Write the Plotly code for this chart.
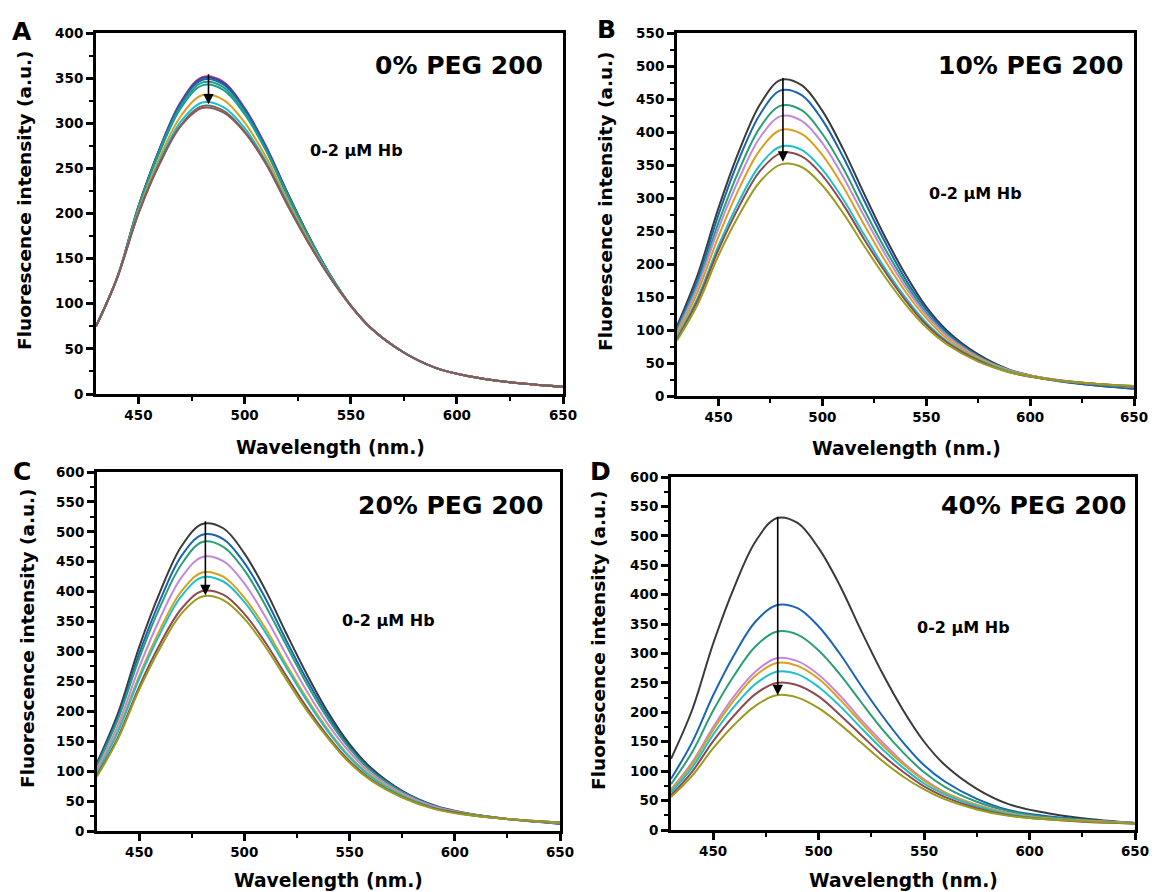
import plotly.graph_objects as go

# wavelength grid (nm)
wavelength = [430, 440, 450, 460, 470, 480, 490, 500, 510, 520, 530, 540, 550, 560, 575, 590, 605, 625, 650]

# ---- A : 0% PEG 200 ----
a_pink = [75, 129, 208, 272, 324, 351, 346, 317, 275, 224, 176, 133, 98, 72, 46, 29, 20, 13, 8]
a_navy = [75, 129, 208, 272, 323, 350, 345, 316, 274, 224, 176, 133, 98, 72, 46, 29, 20, 13, 8]
a_blue = [75, 129, 207, 271, 322, 348, 343, 315, 273, 223, 175, 133, 98, 72, 46, 29, 20, 13, 8]
a_green = [75, 129, 207, 270, 319, 345, 340, 312, 271, 222, 175, 133, 98, 72, 46, 29, 20, 13, 8]
a_teal = [75, 129, 206, 268, 317, 342, 337, 310, 270, 220, 174, 133, 98, 72, 46, 29, 20, 13, 8]
a_gold = [75, 129, 203, 262, 308, 331, 326, 301, 263, 216, 171, 131, 98, 72, 46, 29, 20, 13, 8]
a_cyan = [75, 129, 201, 258, 302, 323, 318, 295, 258, 213, 169, 131, 98, 72, 46, 29, 20, 13, 8]
a_gray = [75, 129, 200, 256, 298, 319, 314, 291, 256, 211, 168, 130, 98, 72, 46, 29, 20, 13, 8]
a_brown = [75, 129, 200, 255, 297, 317, 312, 290, 255, 210, 168, 130, 98, 72, 46, 29, 20, 13, 8]

# ---- B : 10% PEG 200 ----
b_gray = [106, 184, 285, 372, 442, 479, 471, 432, 374, 307, 242, 184, 135, 99, 63, 40, 28, 18, 11]
b_blue = [103, 177, 275, 360, 427, 463, 456, 418, 362, 297, 234, 177, 131, 96, 61, 38, 27, 18, 11]
b_green = [100, 171, 263, 343, 407, 440, 433, 397, 345, 283, 224, 171, 126, 93, 60, 39, 28, 20, 13]
b_violet = [97, 166, 254, 330, 392, 424, 417, 383, 332, 273, 216, 165, 123, 91, 59, 39, 28, 20, 14]
b_gold = [93, 158, 242, 315, 373, 403, 397, 365, 317, 260, 206, 158, 118, 87, 57, 38, 28, 20, 14]
b_cyan = [89, 149, 228, 296, 350, 378, 373, 343, 298, 245, 194, 149, 111, 83, 55, 37, 27, 20, 15]
b_brown = [86, 145, 222, 288, 341, 368, 363, 334, 290, 238, 189, 145, 108, 81, 54, 36, 27, 20, 14]
b_olive = [84, 139, 213, 275, 325, 351, 347, 319, 277, 228, 181, 139, 104, 78, 52, 36, 27, 20, 15]

# ---- C : 20% PEG 200 ----
c_gray = [114, 197, 307, 400, 475, 513, 506, 464, 403, 330, 260, 197, 145, 106, 67, 43, 30, 20, 12]
c_blue = [111, 191, 296, 386, 459, 495, 488, 448, 389, 318, 251, 191, 141, 103, 66, 42, 29, 20, 12]
c_green = [109, 187, 288, 375, 445, 483, 475, 436, 377, 310, 244, 186, 138, 101, 65, 42, 30, 20, 13]
c_violet = [104, 177, 273, 356, 423, 458, 451, 414, 358, 294, 232, 177, 132, 97, 63, 41, 29, 20, 13]
c_gold = [99, 169, 259, 337, 400, 432, 425, 390, 339, 278, 220, 168, 125, 93, 60, 39, 29, 20, 14]
c_cyan = [97, 166, 254, 330, 392, 424, 417, 383, 332, 273, 216, 165, 123, 91, 59, 39, 28, 20, 14]
c_brown = [93, 157, 241, 313, 371, 401, 395, 363, 315, 259, 205, 157, 117, 87, 57, 38, 28, 20, 14]
c_olive = [91, 154, 236, 306, 363, 392, 386, 355, 308, 253, 200, 154, 114, 85, 56, 37, 27, 20, 14]

# ---- D : 40% PEG 200 ----
d_gray = [121, 204, 317, 413, 490, 530, 522, 479, 416, 340, 268, 204, 150, 110, 70, 44, 31, 20, 12]
d_blue = [87, 149, 229, 298, 354, 382, 377, 346, 300, 246, 195, 149, 110, 82, 53, 34, 25, 18, 12]
d_green = [78, 132, 203, 263, 312, 337, 332, 305, 265, 218, 172, 132, 98, 73, 48, 32, 23, 17, 12]
d_violet = [69, 115, 175, 228, 269, 292, 287, 264, 229, 188, 150, 115, 86, 64, 43, 29, 21, 16, 12]
d_gold = [67, 112, 170, 221, 262, 284, 279, 257, 222, 183, 145, 112, 84, 63, 42, 28, 21, 16, 11]
d_cyan = [64, 106, 162, 210, 248, 269, 265, 243, 211, 174, 138, 106, 79, 60, 40, 27, 20, 15, 11]
d_brown = [59, 99, 151, 195, 231, 250, 246, 227, 196, 162, 128, 99, 74, 56, 37, 25, 19, 14, 11]
d_olive = [56, 92, 139, 179, 211, 229, 225, 207, 180, 149, 118, 91, 69, 52, 35, 24, 19, 15, 11]

a_colors = ['#d0407a', '#3b3f99', '#1a64b8', '#2a9f74', '#1a9c9c', '#d8a020', '#1cc0cc', '#6b6b6b', '#8c5a5a']
series_colors = ['#3a3a3a', '#1a64b8', '#2a9f74', '#c488d8', '#d8a020', '#1cc0cc', '#8c4a52', '#9b9b1f']

panels = [
	dict(curves=[a_pink, a_navy, a_blue, a_green, a_teal, a_gold, a_cyan, a_gray, a_brown], colors=a_colors,
		 ymax=400, xd=(96, 563), yd=(33, 394), letter='A', label='0% PEG 200', arrow=(483, 356, 321)),
	dict(curves=[b_gray, b_blue, b_green, b_violet, b_gold, b_cyan, b_brown, b_olive], colors=series_colors,
		 ymax=550, xd=(677, 1134), yd=(33, 396), letter='B', label='10% PEG 200', arrow=(481, 484, 355)),
	dict(curves=[c_gray, c_blue, c_green, c_violet, c_gold, c_cyan, c_brown, c_olive], colors=series_colors,
		 ymax=600, xd=(97, 560), yd=(472, 831), letter='C', label='20% PEG 200', arrow=(481.5, 520, 394)),
	dict(curves=[d_gray, d_blue, d_green, d_violet, d_gold, d_cyan, d_brown, d_olive], colors=series_colors,
		 ymax=600, xd=(671, 1135), yd=(477, 830), letter='D', label='40% PEG 200', arrow=(480.6, 535, 229)),
]

# the page body has an 8 px margin; the figure keeps the window size and its
# coordinates are shifted by that margin (the overflow on the right/bottom is empty)
W, H, OFF = 1157, 892, 8
FONT = 'DejaVu Sans'

# text positions (window pixels)
letter_pos = [(22, 31), (606, 29), (22, 471), (600, 472)]
label_pos = [(459, 65), (1030, 65), (450, 505), (1033, 505)]
hb_pos = [(356, 151), (975, 193), (388, 620), (963, 627)]
xtitle_pos = [(330, 447), (906, 449), (328, 880), (903, 880)]
ytitle_pos = [(25, 200), (605, 201), (27, 638), (598, 640)]


def px(x):
	return (x - OFF) / W


def py(y):
	return 1 - (y - OFF) / H


def text_note(text, pos, size, angle=0):
	return dict(text=text, x=px(pos[0]), y=py(pos[1]), xref='paper', yref='paper',
				xanchor='center', yanchor='middle', textangle=angle, showarrow=False,
				font=dict(family=FONT, size=size, color='black', weight='bold'))


fig = go.Figure()
layout = dict(
	width=W, height=H,
	margin=dict(l=0, r=0, t=0, b=0, pad=0),
	paper_bgcolor='white', plot_bgcolor='white',
	showlegend=False,
	annotations=[],
)

for i, p in enumerate(panels):
	n = '' if i == 0 else str(i + 1)
	xa, ya = 'x' + n, 'y' + n
	for values, color in zip(p['curves'], p['colors']):
		fig.add_trace(go.Scatter(
			x=wavelength, y=values, mode='lines', xaxis=xa, yaxis=ya,
			line=dict(color=color, width=2, shape='spline', smoothing=1.0),
			hoverinfo='skip'
		))

	common = dict(
		showline=True, linewidth=3, linecolor='black', mirror=True,
		ticks='outside', ticklen=7, tickwidth=2.5, tickcolor='black',
		showgrid=False, zeroline=False, automargin=False,
		tickfont=dict(family=FONT, size=13.5, color='black', weight='bold'),
	)
	layout['xaxis' + n] = dict(
		common, range=[430, 650], dtick=50, tick0=0, anchor=ya,
		domain=[px(p['xd'][0]), px(p['xd'][1])],
		minor=dict(ticks='outside', ticklen=4, tickwidth=2, tickcolor='black', dtick=25, tick0=0),
	)
	layout['yaxis' + n] = dict(
		common, range=[0, p['ymax']], dtick=50, tick0=0, anchor=xa,
		domain=[py(p['yd'][1]), py(p['yd'][0])],
		minor=dict(ticks='outside', ticklen=4, tickwidth=2, tickcolor='black', dtick=25, tick0=0),
	)

	ann = layout['annotations']
	ann.append(text_note(p['letter'], letter_pos[i], 25))
	ann.append(text_note(p['label'], label_pos[i], 25))
	ann.append(text_note('0-2 μM Hb', hb_pos[i], 16))
	ann.append(text_note('Wavelength (nm.)', xtitle_pos[i], 18.7))
	ann.append(text_note('Fluorescence intensity (a.u.)', ytitle_pos[i], 18.5, angle=-90))
	ax_x, top, bottom = p['arrow']
	ann.append(dict(text='', x=ax_x, y=bottom, ax=ax_x, ay=top, xref=xa, yref=ya, axref=xa, ayref=ya,
					showarrow=True, arrowhead=2, arrowsize=1.3, arrowwidth=1.6, arrowcolor='black'))

fig.update_layout(**layout)
fig.write_html("out.html")
